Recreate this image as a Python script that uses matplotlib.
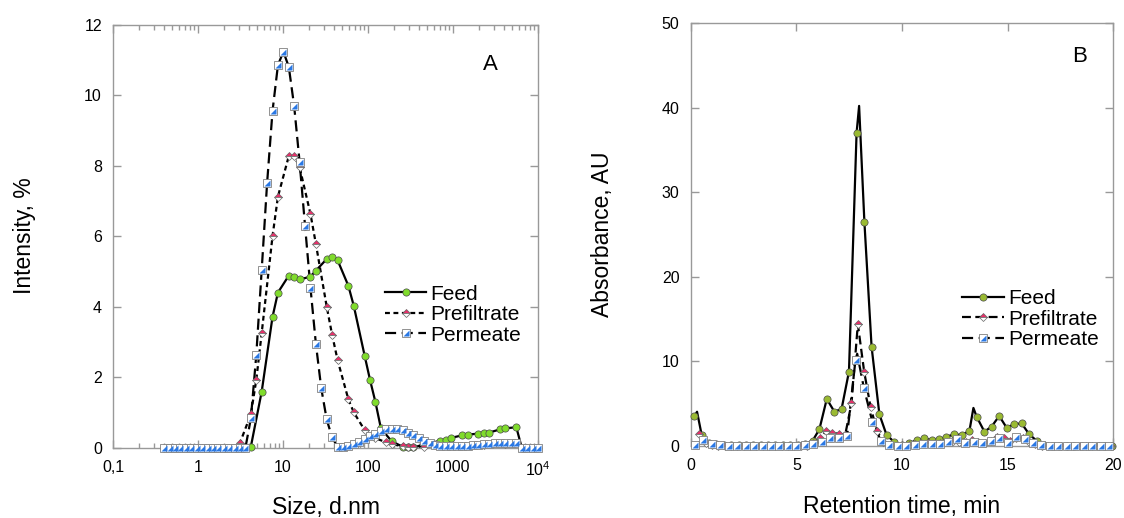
import numpy as np
import matplotlib
matplotlib.use("Agg")
import matplotlib.pyplot as plt
from matplotlib.lines import Line2D
from matplotlib.legend_handler import HandlerTuple

plt.rcParams['font.family'] = ['Liberation Sans', 'DejaVu Sans']
plt.rcParams['mathtext.fontset'] = 'custom'
plt.rcParams['mathtext.rm'] = 'Liberation Sans'

# ---------------- Panel A : DLS size distribution ----------------
size_bins = [0.4, 0.4632, 0.5365, 0.6213, 0.7195, 0.8332, 0.9649, 1.117, 1.294, 1.499,
             1.736, 2.010, 2.328, 2.696, 3.122, 3.615, 4.187, 4.849, 5.615, 6.503,
             7.531, 8.721, 10.10, 11.70, 13.54, 15.69, 18.17, 21.04, 24.36, 28.21,
             32.67, 37.84, 43.82, 50.75, 58.77, 68.06, 78.82, 91.28, 105.7, 122.4,
             141.8, 164.2, 190.1, 220.2, 255.0, 295.3, 342.0, 396.1, 458.7, 531.2,
             615.1, 712.4, 825.0, 955.4, 1106, 1281, 1484, 1718, 1990, 2305,
             2669, 3091, 3580, 4145, 4801, 5560, 6439, 7456, 8635, 10000]

perm_int = [0, 0, 0, 0, 0, 0, 0, 0, 0, 0, 0, 0, 0, 0, 0, 0,
            0.83, 2.63, 5.04, 7.51, 9.55, 10.85, 11.23, 10.80, 9.68, 8.09,
            6.29, 4.54, 2.95, 1.68, 0.80, 0.29, 0.03, 0.02, 0.05, 0.10,
            0.17, 0.25, 0.32, 0.40, 0.47, 0.52, 0.54, 0.53, 0.49, 0.43,
            0.36, 0.28, 0.20, 0.13, 0.08, 0.05, 0.04, 0.04, 0.04, 0.05,
            0.06, 0.07, 0.08, 0.10, 0.11, 0.12, 0.12, 0.13, 0.13, 0.12,
            0, 0, 0, 0]

feed_bins = [0, 1, 2, 3, 4, 5, 6, 7, 8, 9, 10, 11, 12, 13, 14, 15, 16, 18, 20, 21,
             23, 24, 25, 27, 28, 30, 31, 32, 34, 35, 37, 38, 39, 40, 42, 44, 45, 46,
             51, 52, 53, 55, 56, 58, 59, 60, 62, 63, 65, 66, 67, 68, 69]
feed_int = [0, 0, 0, 0, 0, 0, 0, 0, 0, 0, 0, 0, 0, 0, 0, 0, 0.03, 1.59, 3.71, 4.40,
            4.88, 4.85, 4.77, 4.85, 5.02, 5.35, 5.42, 5.32, 4.59, 4.02, 2.61, 1.92, 1.29, 0.55, 0.18, 0.03, 0.01, 0.01,
            0.20, 0.23, 0.28, 0.35, 0.37, 0.40, 0.42, 0.43, 0.52, 0.55, 0.58, 0, 0, 0, 0]

pref_bins = [0, 1, 2, 3, 4, 5, 6, 7, 8, 9, 10, 11, 12, 13, 14, 16, 17, 18, 20, 21,
             23, 24, 25, 27, 28, 30, 31, 32, 34, 35, 37, 39, 41, 42, 44, 45, 46, 48,
             55, 59, 63, 66, 69]
pref_int = [0, 0, 0, 0, 0, 0, 0, 0, 0, 0, 0, 0, 0, 0, 0.14, 0.95, 1.92, 3.25, 6.0, 7.12,
            8.27, 8.27, 7.95, 6.63, 5.78, 4.0, 3.2, 2.49, 1.37, 1.0, 0.5, 0.27, 0.15, 0.10, 0.04, 0.03, 0.03, 0.03,
            0.06, 0.08, 0.10, 0, 0]

size_ticks = [0.1, 1, 10, 100, 1000, 10000]
size_labels = ['0,1', '1', '10', '100', '1000', r'$\mathregular{10^4}$']

# ---------------- Panel B : SEC chromatogram ----------------
feed_t = [0.17, 0.52, 0.87, 1.22, 1.57, 1.92, 2.27, 2.62, 2.97, 3.32, 3.66, 4.01, 4.36, 4.71, 5.06,
          5.41, 5.77, 6.09, 6.44, 6.80, 7.14, 7.49, 7.85, 8.22, 8.56, 8.93, 9.27, 9.62, 9.98,
          10.33, 10.69, 11.06, 11.40, 11.77, 12.10, 12.48, 12.82, 13.19, 13.53, 13.90, 14.24,
          14.60, 14.95, 15.30, 15.66, 16.02, 16.37, 16.73, 17.08, 17.44, 17.79, 18.15, 18.50,
          18.85, 19.21, 19.56, 19.92]
feed_abs = [3.5, 1.3, 0.4, 0.2, 0.12, 0.12, 0.12, 0.12, 0.12, 0.12, 0.12, 0.12, 0.12, 0.12, 0.12,
            0.24, 0.63, 1.97, 5.56, 4.06, 4.37, 8.79, 37.0, 26.5, 11.74, 3.74, 1.3, 0.5, 0.1,
            0.3, 0.7, 0.9, 0.7, 0.8, 1.1, 1.38, 1.3, 1.77, 3.47, 1.7, 2.29,
            3.55, 2.17, 2.56, 2.68, 1.38, 0.63, 0.12, 0.05, 0.02, 0.02, 0.02, 0.02,
            0.02, 0.02, 0.02, 0.02]
# line maxima that fall between markers
feed_peak_t = [0.30, 7.97, 13.38]
feed_peak_abs = [4.05, 40.2, 4.5]

pref_t = [0.41, 0.71, 1.01, 1.31, 1.61, 1.91, 2.21, 2.51, 2.81, 3.11, 3.41, 3.71, 4.01, 4.31,
          4.61, 4.91, 5.21, 5.51, 5.81, 6.11, 6.41, 6.71, 7.01, 7.31, 7.61, 7.91, 8.21, 8.51,
          8.81, 9.11, 9.41, 9.71, 10.01, 10.31, 10.61, 10.91, 11.21, 11.51, 11.81, 12.11, 12.41,
          12.71, 13.01, 13.31, 13.61, 13.91, 14.21, 14.51, 14.81, 15.11, 15.41, 15.71, 16.01,
          16.31, 16.61, 16.91, 17.21, 17.51, 17.81, 18.11, 18.41, 18.71, 19.01, 19.31, 19.61, 19.91]
pref_abs = [1.42, 0.4, 0.15, 0.05, 0.05, 0.05, 0.05, 0.05, 0.05, 0.05, 0.05, 0.05, 0.05, 0.05,
            0.05, 0.05, 0.05, 0.05, 0.3, 0.9, 1.8, 1.57, 1.42, 1.3, 5.05, 14.4, 8.78, 4.65,
            1.81, 0.5, 0.15, 0.05, 0.05, 0.1, 0.2, 0.3, 0.3, 0.25, 0.3, 0.5, 0.65,
            0.5, 0.45, 0.7, 0.5, 0.4, 0.6, 1.1, 0.9, 0.6, 1.0, 0.9, 0.5,
            0.2, 0.05, 0.02, 0.02, 0.02, 0.02, 0.02, 0.02, 0.02, 0.02, 0.02, 0.02, 0.02]

perm_t = [0.2, 0.6, 1.0, 1.4, 1.8, 2.2, 2.6, 3.0, 3.4, 3.8, 4.2, 4.6, 5.0, 5.4,
          5.8, 6.2, 6.6, 7.0, 7.4, 7.8, 8.2, 8.6, 9.0, 9.4, 9.8,
          10.2, 10.6, 11.0, 11.4, 11.8, 12.2, 12.6, 13.0, 13.4, 13.8, 14.2, 14.6, 15.0, 15.4,
          15.8, 16.2, 16.6, 17.0, 17.4, 17.8, 18.2, 18.6, 19.0, 19.4, 19.8]
perm_abs = [0.1, 0.7, 0.25, 0.1, 0.05, 0.05, 0.05, 0.05, 0.05, 0.05, 0.05, 0.05, 0.05, 0.08,
            0.24, 0.5, 0.91, 0.91, 1.18, 10.2, 6.8, 2.85, 0.6, 0.15, 0.05,
            0.05, 0.1, 0.2, 0.2, 0.2, 0.5, 0.8, 0.4, 0.5, 0.3, 0.55, 0.9, 0.35, 1.05,
            0.8, 0.3, 0.1, 0.03, 0.02, 0.02, 0.02, 0.02, 0.02, 0.02, 0.02]
perm_peak_t = [7.88]
perm_peak_abs = [10.9]

# ---------------- styles ----------------
pink = '#e8306a'
blue = '#2a78e4'
green_a = '#80dc2c'
green_b = '#9aba32'
spine_col = '#999999'
tri = [(-1, -1), (1, -1), (1, 1)]   # lower-right half of a square


def merge_line(x, y, px, py):
    xs = np.concatenate([x, px])
    ys = np.concatenate([y, py])
    o = np.argsort(xs)
    return xs[o], ys[o]


def draw_series(ax, xl, yl, xm, ym, kind, ls, col=None):
    ax.plot(xl, yl, color='black', lw=1.6, ls=ls, clip_on=False, zorder=2)
    if kind == 'feed':
        ax.plot(xm, ym, ls='none', marker='o', ms=5.2, mfc=col, mec='#4a4a4a',
                mew=0.5, clip_on=False, zorder=3)
    elif kind == 'pref':
        ax.plot(xm, ym, ls='none', marker='D', ms=3.7, fillstyle='top', mfc=pink,
                mfcalt='white', mec='#666666', mew=0.5, clip_on=False, zorder=4)
    else:
        ax.plot(xm, ym, ls='none', marker='s', ms=5.4, mfc='white', mec='#808080',
                mew=0.6, clip_on=False, zorder=5)
        ax.plot(xm, ym, ls='none', marker=tri, ms=4.8, mfc=blue, mec='none',
                clip_on=False, zorder=6)


def legend_handles(col, pref_ls, perm_ls):
    h1 = Line2D([], [], color='black', lw=1.6, marker='o', ms=5.2, mfc=col, mec='#4a4a4a', mew=0.5)
    h2 = Line2D([], [], color='black', lw=1.6, ls=pref_ls, marker='D', ms=3.7, fillstyle='top',
                mfc=pink, mfcalt='white', mec='#666666', mew=0.5)
    h3a = Line2D([], [], color='black', lw=1.6, ls=perm_ls, marker='s', ms=5.4, mfc='white',
                 mec='#808080', mew=0.6)
    h3b = Line2D([], [], ls='none', marker=tri, ms=4.8, mfc=blue, mec='none')
    return [h1, h2, (h3a, h3b)]


def style_axes(ax):
    for s in ax.spines.values():
        s.set_color(spine_col)
        s.set_linewidth(1.0)
    ax.tick_params(which='both', direction='in', top=True, right=True, color=spine_col,
                   labelsize=11.5, width=1.0)
    ax.tick_params(which='major', length=6)
    ax.tick_params(which='minor', length=3.5)
    ax.tick_params(axis='x', pad=9)
    ax.tick_params(axis='y', pad=8)


fig = plt.figure(figsize=(11.24, 5.18), dpi=100)

# ---- Panel A
axA = fig.add_axes([113 / 1124, 70.3 / 518, 425 / 1124, 423.2 / 518])
bins = np.array(size_bins)
draw_series(axA, bins[feed_bins], feed_int, bins[feed_bins], feed_int, 'feed', '-', green_a)
draw_series(axA, bins[pref_bins], pref_int, bins[pref_bins], pref_int, 'pref', (0, (2.2, 1.6)))
draw_series(axA, bins, perm_int, bins, perm_int, 'perm', (0, (5, 2.5)))
axA.set_xscale('log')
axA.set_xlim(0.1, 10000)
axA.set_ylim(0, 12)
axA.set_xticks(size_ticks)
axA.set_xticklabels(size_labels)
axA.set_yticks(range(0, 13, 2))
style_axes(axA)
axA.set_xlabel('Size, d.nm', fontsize=16.5)
axA.set_ylabel('Intensity, %', fontsize=16.5)
axA.xaxis.set_label_coords(0.5, -0.115)
axA.yaxis.set_label_coords(-0.182, 0.5)
axA.text(0.887, 0.905, 'A', transform=axA.transAxes, fontsize=16, ha='center', va='center')
axA.legend(legend_handles(green_a, (0, (2.2, 1.6)), (0, (5, 2.5))),
           ['Feed', 'Prefiltrate', 'Permeate'],
           handler_map={tuple: HandlerTuple(ndivide=1)},
           loc='upper left', bbox_to_anchor=(0.615, 0.41), frameon=False, fontsize=15,
           handlelength=2.0, handletextpad=0.2, labelspacing=0.07, borderpad=0, numpoints=1)

# ---- Panel B
axB = fig.add_axes([690.7 / 1124, 72 / 518, 422.6 / 1124, 423 / 518])
lx, ly = merge_line(np.array(feed_t), np.array(feed_abs), feed_peak_t, feed_peak_abs)
draw_series(axB, lx, ly, feed_t, feed_abs, 'feed', '-', green_b)
draw_series(axB, pref_t, pref_abs, pref_t, pref_abs, 'pref', (0, (4, 2)))
lx, ly = merge_line(np.array(perm_t), np.array(perm_abs), perm_peak_t, perm_peak_abs)
draw_series(axB, lx, ly, perm_t, perm_abs, 'perm', (0, (5, 2.5)))
axB.set_xlim(0, 20)
axB.set_ylim(0, 50)
axB.set_xticks(range(0, 21, 5))
axB.set_yticks(range(0, 51, 10))
style_axes(axB)
axB.set_xlabel('Retention time, min', fontsize=16.5)
axB.set_ylabel('Absorbance, AU', fontsize=16.5)
axB.xaxis.set_label_coords(0.5, -0.115)
axB.yaxis.set_label_coords(-0.182, 0.5)
axB.text(0.921, 0.92, 'B', transform=axB.transAxes, fontsize=16, ha='center', va='center')
axB.legend(legend_handles(green_b, (0, (4, 2)), (0, (5, 2.5))),
           ['Feed', 'Prefiltrate', 'Permeate'],
           handler_map={tuple: HandlerTuple(ndivide=1)},
           loc='upper left', bbox_to_anchor=(0.618, 0.395), frameon=False, fontsize=15,
           handlelength=2.0, handletextpad=0.2, labelspacing=0.07, borderpad=0, numpoints=1)

fig.savefig('out.png', dpi=100)
